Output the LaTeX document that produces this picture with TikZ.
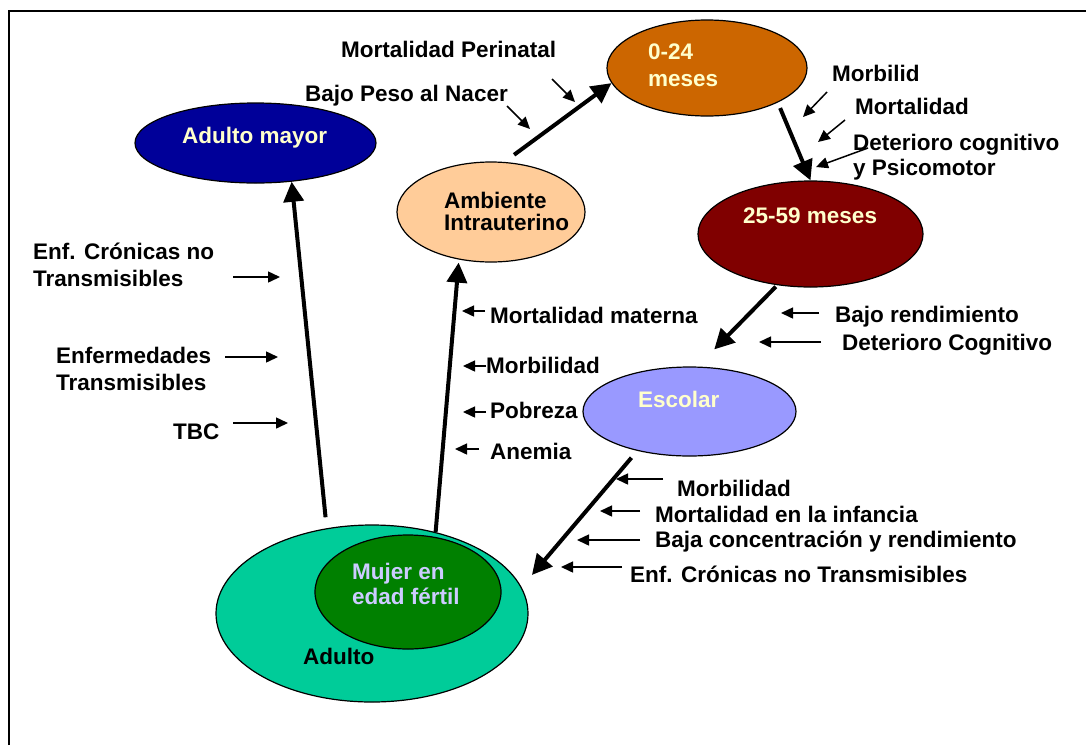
\documentclass[tikz,border=0pt]{standalone}
\usepackage{fontspec}
\setmainfont{Liberation Sans}
\usetikzlibrary{shapes.geometric,arrows.meta}
\definecolor{amarillo}{RGB}{255,255,204}
\definecolor{lavanda}{RGB}{204,204,255}
\definecolor{azul}{RGB}{0,0,153}
\definecolor{naranja}{RGB}{204,102,0}
\definecolor{durazno}{RGB}{255,204,153}
\definecolor{granate}{RGB}{128,0,0}
\definecolor{lila}{RGB}{153,153,255}
\definecolor{turquesa}{RGB}{0,204,153}
\definecolor{verde}{RGB}{0,128,0}
\begin{document}
\begin{tikzpicture}[x=1pt, y=-1pt,
		every node/.style={font=\bfseries\fontsize{22.5}{27}\selectfont},
		etapa/.style={ellipse, draw, line width=1.2pt, inner sep=0pt},
		texto/.style={anchor=base west, inner sep=0pt, align=left},
		flechota/.style={line width=4pt, -{Triangle[length=20pt,width=20pt]}},
		flecha/.style={line width=1.5pt, -{Triangle[length=12pt,width=11pt]}}]
		\useasboundingbox (0,0) rectangle (1086,745);
		\draw[line width=1.3pt] (9,745) -- (9,11) -- (1086,11);
		
		\node[etapa, fill=azul, minimum width=241pt, minimum height=80pt] (adultomayor) at (255.5,143) {};
		\node[etapa, fill=naranja, minimum width=200pt, minimum height=96pt] (m024) at (707,68) {};
		\node[etapa, fill=durazno, minimum width=188pt, minimum height=100pt] (ambiente) at (491,212) {};
		\node[etapa, fill=granate, minimum width=225pt, minimum height=106pt] (m2559) at (810.5,234) {};
		\node[etapa, fill=lila, minimum width=213pt, minimum height=89pt] (escolar) at (689.5,411.5) {};
		\node[etapa, fill=turquesa, minimum width=312pt, minimum height=177pt] (adulto) at (372,613.5) {};
		\node[etapa, fill=verde, minimum width=186pt, minimum height=114pt] (mujer) at (408,592) {};
		
		% textos de varias lineas: la base es la de la ultima linea
		\node[texto, text=amarillo] (adultomayortxt) at (182,143) {Adulto mayor};
		\node[texto, text=amarillo] (m024txt) at (648,86) {0-24\\meses};
		\node[texto, font=\bfseries\fontsize{22.5}{22}\selectfont] (ambientetxt) at (444,230) {Ambiente\\Intrauterino};
		\node[texto, text=amarillo] (m2559txt) at (743,223) {25-59 meses};
		\node[texto, text=amarillo] (escolartxt) at (638,407) {Escolar};
		\node[texto, text=lavanda, font=\bfseries\fontsize{22.5}{25}\selectfont] (mujertxt) at (352,604) {Mujer en\\edad fértil};
		\node[texto] (adultotxt) at (303,664) {Adulto};
		
		\node[texto] (perinatal) at (341,57) {Mortalidad Perinatal};
		\node[texto] (bajopeso) at (305,101) {Bajo Peso al Nacer};
		\node[texto] (morbilid) at (832,81) {Morbilid};
		\node[texto] (mortalidad) at (855,114) {Mortalidad};
		\node[texto, font=\bfseries\fontsize{22.5}{25}\selectfont] (deterioro) at (853,175) {Deterioro cognitivo\\y Psicomotor};
		\node[texto] (enfcronicas) at (33,286) {Enf. Crónicas no\\Transmisibles};
		\node[texto] (enfermedades) at (56,390) {Enfermedades\\Transmisibles};
		\node[texto] (tbc) at (173,439) {TBC};
		\node[texto] (materna) at (490,323) {Mortalidad materna};
		\node[texto] (morbmadre) at (486,373) {Morbilidad};
		\node[texto] (pobreza) at (490,418) {Pobreza};
		\node[texto] (anemia) at (490,459) {Anemia};
		\node[texto] (rendimiento) at (835,322) {Bajo rendimiento};
		\node[texto] (cognitivo) at (842,350) {Deterioro Cognitivo};
		\node[texto] (morbinfancia) at (677,496) {Morbilidad};
		\node[texto] (infancia) at (655,522) {Mortalidad en la infancia};
		\node[texto] (concentracion) at (655,547) {Baja concentración y rendimiento};
		\node[texto] (cronicas) at (630,582) {Enf. Crónicas no Transmisibles};
		
		\draw[flechota, shorten <=11pt] (adulto.118.6) -- (adultomayor.-47);
		\draw[flechota, shorten >=3pt] (adulto.52.7) -- (ambiente.-124);
		\draw[flechota, shorten <=12pt] (ambiente.75) -- (m024.189);
		\draw[flechota, shorten <=6pt] (m024.-26) -- (m2559.north);
		\draw[flechota, shorten <=2pt, shorten >=24pt] (m2559.-123.5) -- (escolar.80.5);
		\draw[flechota, shorten <=9pt, shorten >=16pt] (escolar.-143.8) -- (adulto.10.1);
		
		% flechas chicas: nombre / cola / punta
		\foreach \n/\a/\b in {fperinatal/{552,79}/{575,102}, fbajopeso/{507,106}/{530,129},
			fmorbilid/{827,92}/{803,117}, fmortalidad/{845,120}/{818,142},
			fdeterioro/{868,148}/{816,167}, fenfcronicas/{233,277}/{280,277},
			fenfermedades/{225,357}/{278,357}, ftbc/{233,423}/{288,423},
			fmaterna/{485,311}/{462,311}, fmorbmadre/{486,366}/{463,366},
			fpobreza/{486,412}/{463,412}, fanemia/{479,449}/{455,449},
			frendimiento/{819,313}/{781,313}, fcognitivo/{821,342}/{759,342},
			fmorbinfancia/{663,479}/{616,479}, finfancia/{640,511}/{600,511},
			fconcentracion/{640,540}/{577,540}, fcronicas/{622,567}/{561,567}}{
			\coordinate (\n-a) at (\a);
			\coordinate (\n-b) at (\b);
			\draw[flecha] (\n-a) -- (\n-b);
		}
	\end{tikzpicture}
\end{document}
